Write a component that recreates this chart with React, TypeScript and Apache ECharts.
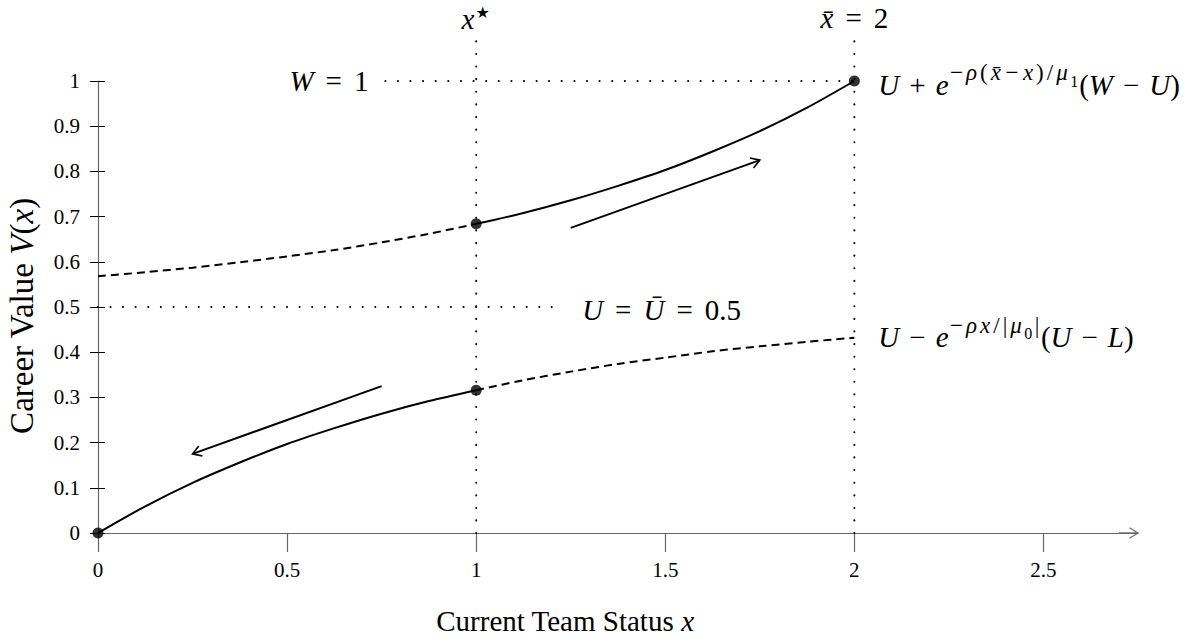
import React, { useEffect, useRef } from "react";
import * as echarts from "echarts";

// ---- data ----
const xLeft = [0, 0.125, 0.25, 0.375, 0.5, 0.625, 0.75, 0.875, 1];
const xRight = [1, 1.125, 1.25, 1.375, 1.5, 1.625, 1.75, 1.875, 2];
const upperLeft = [0.568, 0.577, 0.587, 0.599, 0.612, 0.626, 0.643, 0.662, 0.684];
const upperRight = [0.684, 0.708, 0.736, 0.768, 0.803, 0.844, 0.889, 0.941, 1.0];
const lowerLeft = [0, 0.059, 0.111, 0.156, 0.197, 0.232, 0.264, 0.292, 0.316];
const lowerRight = [0.316, 0.338, 0.357, 0.374, 0.388, 0.402, 0.413, 0.423, 0.432];
const keyPoints = [[0, 0], [1, 0.316], [1, 0.684], [2, 1]];
const guideVertical1 = [[1, 0], [1, 1.09]];
const guideVertical2 = [[2, 0], [2, 1.09]];
const guideW = [[0.76, 1], [2, 1]];
const guideU = [[0, 0.5], [1.23, 0.5]];
const directionArrows = [
  [1.25, 0.675, 1.75, 0.825],
  [0.75, 0.325, 0.25, 0.175],
];
const axisArrow = [[2.7, 0, 2.75, 0]];
const xTicks = [0, 0.5, 1, 1.5, 2, 2.5];
const annotationAnchors = [
  [1, 1.09],
  [2, 1.09],
  [0.76, 1],
  [1.23, 0.5],
  [2, 1],
  [2, 0.432],
];
const annotationTexts = [
  "{i|x}{star|★}",
  "{i|x\u0304}{rel|=}{n|2}",
  "{i|W}{rel|=}{n|1}",
  "{i|U}{rel|=}{i|U\u0304}{rel|=}{n|0.5}",
  "{i|U}{op|+}{i|e}{sn|−}{si|ρ}{sn|(}{si|x\u0304}{sop|−}{si|x}{sn|)}{sn|/}{si|μ}{ss|1}{n|(}{i|W}{op|−}{i|U}{n|)}",
  "{i|U}{op|−}{i|e}{sn|−}{si|ρ}{si|x}{sn|/}{sn||}{si|μ}{ss|0}{sn||}{n|(}{i|U}{op|−}{i|L}{n|)}",
];
const yName = "Career Value {yi|V}{yn|(}{yi|x}{yn|)}";
const xName = "Current Team Status {xi|x}";

const FONT = "Liberation Serif, DejaVu Serif, serif";
const annotationOffsets = [
  [0, -21],
  [0, -22],
  [-17, 0],
  [19, 3],
  [24, -1],
  [24, -5],
];
const annotationAlign = ["center", "center", "right", "left", "left", "left"];

const mk = (size: number, italic: boolean, padBottom = 0, padSide = 0, family = FONT) => ({
  fontFamily: family,
  fontSize: size,
  fontStyle: italic ? "italic" : "normal",
  fill: "#000",
  color: "#000",
  verticalAlign: "bottom",
  padding: [0, padSide, padBottom, padSide],
});
const rich: any = {
  i: mk(29, true),
  n: mk(29, false),
  rel: mk(29, false, 0, 12),
  op: mk(29, false, 0, 10),
  star: mk(16, false, 13, 1, "DejaVu Sans, sans-serif"),
  si: mk(23, true, 15, 1.5),
  sn: mk(23, false, 15, 1.5),
  sop: mk(23, false, 15, 3),
  ss: mk(16, false, 10, 1),
  yi: mk(33, true),
  yn: mk(33, false),
  xi: mk(29, true),
};

function arrowRenderer(color: string, width: number) {
  return (params: any, api: any) => {
    const p1 = api.coord([api.value(0), api.value(1)]);
    const p2 = api.coord([api.value(2), api.value(3)]);
    const ang = Math.atan2(p2[1] - p1[1], p2[0] - p1[0]);
    const L = 10;
    const a = 0.55;
    const h1 = [p2[0] - L * Math.cos(ang - a), p2[1] - L * Math.sin(ang - a)];
    const h2 = [p2[0] - L * Math.cos(ang + a), p2[1] - L * Math.sin(ang + a)];
    return {
      type: "group",
      children: [
        {
          type: "line",
          shape: { x1: p1[0], y1: p1[1], x2: p2[0], y2: p2[1] },
          style: { stroke: color, lineWidth: width },
        },
        {
          type: "polyline",
          shape: { points: [h1, p2, h2] },
          style: { stroke: color, lineWidth: width * 0.8, fill: "none" },
        },
      ],
    };
  };
}

export default function App() {
  const ref = useRef<HTMLDivElement>(null);
  useEffect(() => {
    if (!ref.current) return;
    const chart = echarts.init(ref.current, undefined, { renderer: "svg" });
    const solid = { color: "#000", width: 2 };
    const dashed = { color: "#000", width: 2, type: [8, 5] };
    const dotted = { color: "#000", width: 2, type: [0.1, 12.5], cap: "round" };
    const lineBase = { type: "line", symbol: "none", smooth: 0.3, clip: false, silent: true };
    const zip = (xs: number[], ys: number[]) => xs.map((x, i) => [x, ys[i]]);
    chart.setOption({
      animation: false,
      grid: { left: 98, top: 81, width: 1040, height: 452 },
      xAxis: {
        type: "value",
        min: 0,
        max: 2.75,
        interval: 0.5,
        splitLine: { show: false },
        axisLine: { lineStyle: { color: "#666", width: 1.2 } },
        axisTick: { length: 19, customValues: xTicks, lineStyle: { color: "#666", width: 1.2 } },
        axisLabel: {
          customValues: xTicks,
          margin: 26,
          fontFamily: FONT,
          fontSize: 21,
          color: "#000",
        },
      },
      yAxis: [
        {
          type: "value",
          min: 0,
          max: 1,
          interval: 0.1,
          position: "left",
          splitLine: { show: false },
          axisLine: { show: true, lineStyle: { color: "#666", width: 1.2 } },
          axisTick: { show: true, length: 8, lineStyle: { color: "#000", width: 1 } },
          axisLabel: { margin: 18, fontFamily: FONT, fontSize: 21, color: "#000" },
        },
        {
          type: "value",
          min: 0,
          max: 1,
          interval: 0.1,
          position: "left",
          offset: 0,
          splitLine: { show: false },
          axisLine: { show: false },
          axisTick: { show: true, inside: true, length: 7, lineStyle: { color: "#000", width: 1 } },
          axisLabel: { show: false },
        },
      ],
      graphic: [
        {
          type: "text",
          x: 22,
          y: 316,
          rotation: Math.PI / 2,
          style: {
            text: yName,
            rich,
            fontFamily: FONT,
            fontSize: 33,
            fill: "#000",
            align: "center",
            verticalAlign: "middle",
          },
        },
        {
          type: "text",
          x: 565,
          y: 621,
          style: {
            text: xName,
            rich,
            fontFamily: FONT,
            fontSize: 29,
            fill: "#000",
            align: "center",
            verticalAlign: "middle",
          },
        },
      ],
      series: [
        { ...lineBase, data: guideVertical1, lineStyle: dotted, z: 1 },
        { ...lineBase, data: guideVertical2, lineStyle: dotted, z: 1 },
        { ...lineBase, data: guideW, lineStyle: dotted, z: 1 },
        { ...lineBase, data: guideU, lineStyle: dotted, z: 1 },
        { ...lineBase, data: zip(xLeft, upperLeft), lineStyle: dashed, z: 3 },
        { ...lineBase, data: zip(xRight, upperRight), lineStyle: solid, z: 3 },
        { ...lineBase, data: zip(xLeft, lowerLeft), lineStyle: solid, z: 3 },
        { ...lineBase, data: zip(xRight, lowerRight), lineStyle: dashed, z: 3 },
        {
          type: "scatter",
          data: keyPoints,
          symbol: "circle",
          symbolSize: 11,
          itemStyle: { color: "#000" },
          z: 5,
          silent: true,
        },
        {
          type: "custom",
          data: directionArrows,
          encode: { x: [0, 2], y: [1, 3] },
          renderItem: arrowRenderer("#000", 2),
          z: 4,
          silent: true,
        },
        {
          type: "custom",
          data: axisArrow,
          encode: { x: [0, 2], y: [1, 3] },
          renderItem: arrowRenderer("#666", 1.4),
          z: 4,
          silent: true,
        },
        {
          type: "custom",
          data: annotationAnchors,
          silent: true,
          z: 6,
          renderItem: (params: any, api: any) => {
            const i = params.dataIndex;
            const p = api.coord([api.value(0), api.value(1)]);
            const o = annotationOffsets[i];
            return {
              type: "text",
              x: p[0] + o[0],
              y: p[1] + o[1],
              style: {
                text: annotationTexts[i],
                rich,
                fontFamily: FONT,
                fontSize: 29,
                fill: "#000",
                align: annotationAlign[i],
                verticalAlign: "middle",
              },
            };
          },
        },
      ],
    });
    return () => chart.dispose();
  }, []);
  return (
    <div
      ref={ref}
      style={{ position: "fixed", left: 0, top: 0, width: 1199, height: 644, background: "#fff" }}
    />
  );
}
